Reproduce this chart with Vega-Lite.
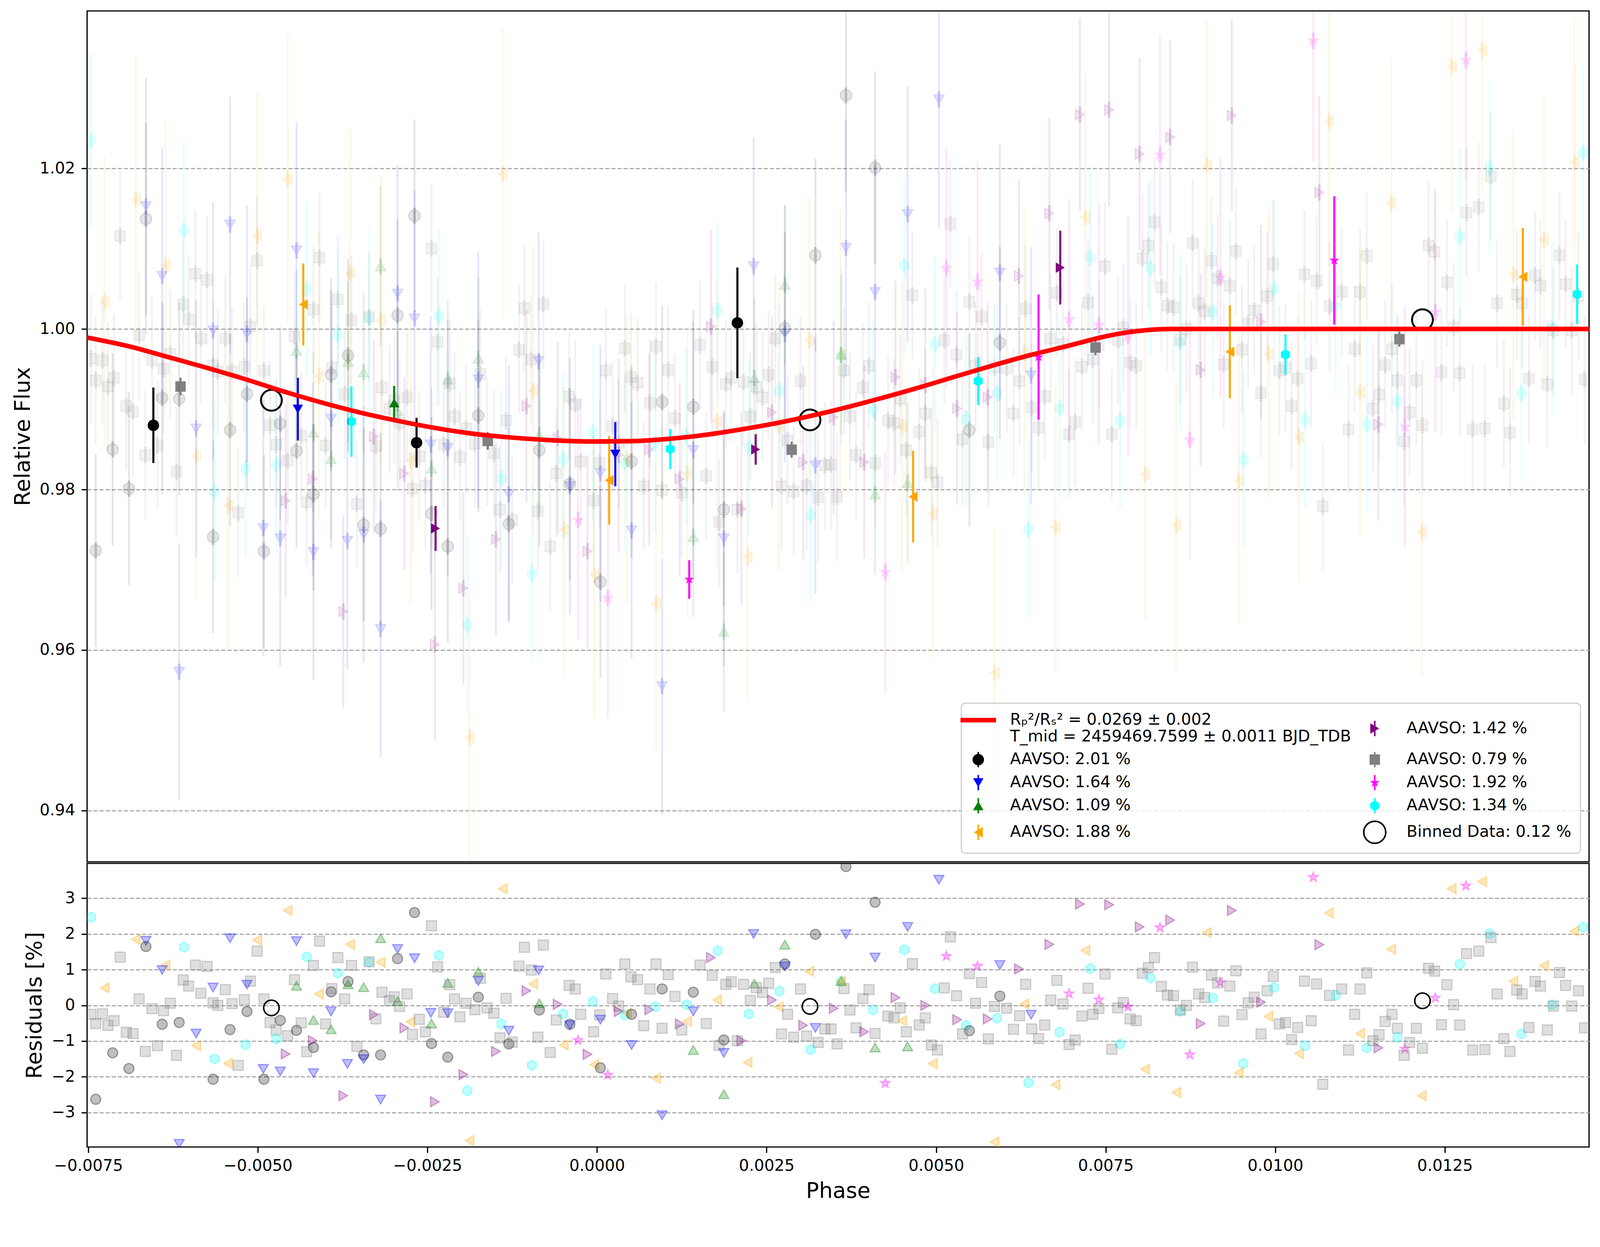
{
  "$schema": "https://vega.github.io/schema/vega-lite/v6.json",
  "background": "white",
  "padding": {"left": 29, "top": 26, "right": 29, "bottom": 25},
  "spacing": 0,
  "resolve": {"scale": {"color": "independent", "shape": "independent", "fill": "independent", "stroke": "independent"}},
  "datasets": {
    "sets": [
      {"s": "c", "lab": "AAVSO: 2.01 %", "e": 0.012},
      {"s": "d", "lab": "AAVSO: 1.64 %", "e": 0.016},
      {"s": "u", "lab": "AAVSO: 1.09 %", "e": 0.01},
      {"s": "l", "lab": "AAVSO: 1.88 %", "e": 0.018},
      {"s": "r", "lab": "AAVSO: 1.42 %", "e": 0.012},
      {"s": "s", "lab": "AAVSO: 0.79 %", "e": 0.008},
      {"s": "m", "lab": "AAVSO: 1.92 %", "e": 0.015},
      {"s": "h", "lab": "AAVSO: 1.34 %", "e": 0.011}
    ],
    "model": [
      {"p": -0.00752, "f": 0.99893}, {"p": -0.0069, "f": 0.99784}, {"p": -0.00635, "f": 0.99657},
      {"p": -0.00578, "f": 0.99523}, {"p": -0.00521, "f": 0.99381}, {"p": -0.00465, "f": 0.9923},
      {"p": -0.00408, "f": 0.99088}, {"p": -0.00351, "f": 0.98962}, {"p": -0.00294, "f": 0.98856},
      {"p": -0.00237, "f": 0.98764}, {"p": -0.00181, "f": 0.98693}, {"p": -0.00124, "f": 0.98646},
      {"p": -0.00067, "f": 0.98614}, {"p": -0.0001, "f": 0.98598}, {"p": 0.00047, "f": 0.98602},
      {"p": 0.00104, "f": 0.9863}, {"p": 0.00142, "f": 0.98662}, {"p": 0.00183, "f": 0.98709},
      {"p": 0.0024, "f": 0.98788}, {"p": 0.00297, "f": 0.98883}, {"p": 0.00354, "f": 0.98994},
      {"p": 0.00411, "f": 0.9912}, {"p": 0.00468, "f": 0.99254}, {"p": 0.00524, "f": 0.99396},
      {"p": 0.00581, "f": 0.99539}, {"p": 0.00638, "f": 0.99673}, {"p": 0.00695, "f": 0.99791},
      {"p": 0.00751, "f": 0.9991}, {"p": 0.0078, "f": 0.99955}, {"p": 0.00808, "f": 0.99984},
      {"p": 0.00848, "f": 1.0}, {"p": 0.01463, "f": 1.0}
    ],
    "bins": [
      {"p": -0.0048, "f": 0.99112, "r": -0.07},
      {"p": 0.00314, "f": 0.98867, "r": -0.03},
      {"p": 0.01217, "f": 1.00115, "r": 0.13}
    ],
    "hi": [
      {"s": "c", "p": -0.00654, "f": 0.988, "e": 0.0047},
      {"s": "c", "p": -0.00266, "f": 0.98583, "e": 0.0031},
      {"s": "c", "p": 0.00207, "f": 1.00076, "e": 0.0069},
      {"s": "s", "p": -0.00614, "f": 0.99283, "e": 0.0011},
      {"s": "s", "p": -0.00161, "f": 0.98606, "e": 0.0011},
      {"s": "s", "p": 0.00287, "f": 0.98496, "e": 0.001},
      {"s": "s", "p": 0.00735, "f": 0.99768, "e": 0.0009},
      {"s": "s", "p": 0.01183, "f": 0.99873, "e": 0.0009},
      {"s": "d", "p": -0.00441, "f": 0.99001, "e": 0.0039},
      {"s": "d", "p": 0.00027, "f": 0.9844, "e": 0.004},
      {"s": "u", "p": -0.00299, "f": 0.9908, "e": 0.0021},
      {"s": "l", "p": -0.00433, "f": 1.00306, "e": 0.0051},
      {"s": "l", "p": 0.00018, "f": 0.98115, "e": 0.0055},
      {"s": "l", "p": 0.00466, "f": 0.97911, "e": 0.0057},
      {"s": "l", "p": 0.00933, "f": 0.99716, "e": 0.0058},
      {"s": "l", "p": 0.01365, "f": 1.0065, "e": 0.0061},
      {"s": "r", "p": -0.00238, "f": 0.97516, "e": 0.0028},
      {"s": "r", "p": 0.00234, "f": 0.98499, "e": 0.0019},
      {"s": "r", "p": 0.00683, "f": 1.00764, "e": 0.0046},
      {"s": "m", "p": 0.00136, "f": 0.96879, "e": 0.0024},
      {"s": "m", "p": 0.00651, "f": 0.9965, "e": 0.0078},
      {"s": "m", "p": 0.01087, "f": 1.00854, "e": 0.008},
      {"s": "h", "p": -0.00362, "f": 0.98847, "e": 0.0044},
      {"s": "h", "p": 0.00108, "f": 0.98504, "e": 0.0025},
      {"s": "h", "p": 0.00562, "f": 0.99352, "e": 0.003},
      {"s": "h", "p": 0.01015, "f": 0.99681, "e": 0.0025},
      {"s": "h", "p": 0.01445, "f": 1.00433, "e": 0.0037}
    ],
    "raw": [
      {"s":"h","p":-0.00746,"r":2.47,"f":1.0235},
      {"s":"c","p":-0.00739,"r":-2.63,"f":0.9724},
      {"s":"s","p":-0.00746,"r":-0.25,"f":0.9963},
      {"s":"s","p":-0.00739,"r":-0.51,"f":0.9936},
      {"s":"s","p":-0.00729,"r":-0.24,"f":0.9961},
      {"s":"s","p":-0.00721,"r":-0.56,"f":0.9928},
      {"s":"s","p":-0.00712,"r":-0.43,"f":0.9939},
      {"s":"l","p":-0.00726,"r":0.49,"f":1.0034},
      {"s":"c","p":-0.00714,"r":-1.33,"f":0.985},
      {"s":"s","p":-0.00703,"r":1.35,"f":1.0116},
      {"s":"c","p":-0.0069,"r":-1.77,"f":0.9801},
      {"s":"s","p":-0.00694,"r":-0.75,"f":0.9904},
      {"s":"s","p":-0.00684,"r":-0.79,"f":0.9897},
      {"s":"l","p":-0.0068,"r":1.85,"f":1.0161},
      {"s":"d","p":-0.00665,"r":1.81,"f":1.0153},
      {"s":"c","p":-0.00665,"r":1.65,"f":1.0137},
      {"s":"s","p":-0.00675,"r":0.18,"f":0.9992},
      {"s":"s","p":-0.00656,"r":-0.09,"f":0.9961},
      {"s":"s","p":-0.00639,"r":-0.15,"f":0.995},
      {"s":"s","p":-0.00629,"r":0.06,"f":0.9969},
      {"s":"s","p":-0.00666,"r":-1.29,"f":0.9843},
      {"s":"s","p":-0.00648,"r":-1.13,"f":0.9855},
      {"s":"c","p":-0.00641,"r":-0.53,"f":0.9914},
      {"s":"l","p":-0.00636,"r":1.13,"f":1.0079},
      {"s":"d","p":-0.00641,"r":0.99,"f":1.0066},
      {"s":"s","p":-0.0062,"r":-1.4,"f":0.9822},
      {"s":"c","p":-0.00616,"r":-0.48,"f":0.9913},
      {"s":"d","p":-0.00616,"r":-3.88,"f":0.9573},
      {"s":"s","p":-0.0061,"r":0.71,"f":1.0031},
      {"s":"s","p":-0.00602,"r":0.54,"f":1.0012},
      {"s":"s","p":-0.00592,"r":1.13,"f":1.0069},
      {"s":"s","p":-0.00575,"r":1.09,"f":1.0061},
      {"s":"s","p":-0.00584,"r":0.34,"f":0.9988},
      {"s":"d","p":-0.00591,"r":-0.79,"f":0.9876},
      {"s":"l","p":-0.00591,"r":-1.13,"f":0.9842},
      {"s":"h","p":-0.00609,"r":1.63,"f":1.0123},
      {"s":"d","p":-0.00566,"r":0.5,"f":0.9998},
      {"s":"c","p":-0.00566,"r":-2.07,"f":0.9741},
      {"s":"s","p":-0.00566,"r":0.07,"f":0.9955},
      {"s":"s","p":-0.00559,"r":0.0,"f":0.9947},
      {"s":"s","p":-0.00548,"r":0.44,"f":0.9988},
      {"s":"s","p":-0.00538,"r":0.05,"f":0.9947},
      {"s":"h","p":-0.00564,"r":-1.5,"f":0.9797},
      {"s":"l","p":-0.00544,"r":-1.63,"f":0.978},
      {"s":"s","p":-0.00529,"r":-1.68,"f":0.9771},
      {"s":"c","p":-0.00541,"r":-0.68,"f":0.9874},
      {"s":"d","p":-0.00541,"r":1.88,"f":1.013},
      {"s":"s","p":-0.0052,"r":0.16,"f":0.9953},
      {"s":"s","p":-0.00511,"r":0.68,"f":1.0003},
      {"s":"d","p":-0.00516,"r":0.58,"f":0.9994},
      {"s":"c","p":-0.00516,"r":-0.17,"f":0.9919},
      {"s":"h","p":-0.00518,"r":-1.1,"f":0.9826},
      {"s":"l","p":-0.00501,"r":1.83,"f":1.0116},
      {"s":"s","p":-0.00501,"r":1.52,"f":1.0085},
      {"s":"s","p":-0.00491,"r":0.18,"f":0.9948},
      {"s":"c","p":-0.00491,"r":-2.07,"f":0.9723},
      {"s":"d","p":-0.00492,"r":-1.78,"f":0.9752},
      {"s":"s","p":-0.00482,"r":-0.48,"f":0.988},
      {"s":"c","p":-0.00467,"r":-0.42,"f":0.9882},
      {"s":"s","p":-0.00473,"r":-0.69,"f":0.9856},
      {"s":"h","p":-0.00473,"r":-0.94,"f":0.9831},
      {"s":"d","p":-0.00467,"r":-1.85,"f":0.9739},
      {"s":"s","p":-0.00456,"r":-0.85,"f":0.9836},
      {"s":"l","p":-0.00456,"r":2.66,"f":1.0187},
      {"s":"h","p":-0.00428,"r":1.36,"f":1.005},
      {"s":"s","p":-0.00446,"r":0.72,"f":0.9991},
      {"s":"u","p":-0.00443,"r":0.55,"f":0.9973},
      {"s":"c","p":-0.00443,"r":-0.7,"f":0.9848},
      {"s":"d","p":-0.00443,"r":1.8,"f":1.0098},
      {"s":"s","p":-0.00436,"r":-0.49,"f":0.9867},
      {"s":"r","p":-0.00419,"r":-0.99,"f":0.9813},
      {"s":"c","p":-0.00418,"r":-1.18,"f":0.9794},
      {"s":"s","p":-0.00428,"r":-1.3,"f":0.9784},
      {"s":"r","p":-0.00459,"r":-1.36,"f":0.9786},
      {"s":"s","p":-0.00418,"r":1.12,"f":1.0024},
      {"s":"u","p":-0.00418,"r":-0.41,"f":0.9871},
      {"s":"d","p":-0.00418,"r":-1.9,"f":0.9722},
      {"s":"s","p":-0.00409,"r":1.8,"f":1.0089},
      {"s":"l","p":-0.0041,"r":0.32,"f":0.9941},
      {"s":"c","p":-0.00392,"r":0.38,"f":0.9943},
      {"s":"s","p":-0.00391,"r":0.47,"f":0.9952},
      {"s":"u","p":-0.00392,"r":-0.67,"f":0.9838},
      {"s":"s","p":-0.004,"r":-0.52,"f":0.9855},
      {"s":"d","p":-0.00392,"r":-0.17,"f":0.9888},
      {"s":"s","p":-0.00382,"r":1.34,"f":1.0037},
      {"s":"h","p":-0.00382,"r":0.9,"f":0.9993},
      {"s":"r","p":-0.00374,"r":-2.53,"f":0.9648},
      {"s":"s","p":-0.00372,"r":0.18,"f":0.9919},
      {"s":"c","p":-0.00367,"r":0.67,"f":0.9967},
      {"s":"u","p":-0.00367,"r":0.59,"f":0.9959},
      {"s":"d","p":-0.00368,"r":-1.64,"f":0.9736},
      {"s":"l","p":-0.00364,"r":1.71,"f":1.007},
      {"s":"s","p":-0.00362,"r":1.12,"f":1.0011},
      {"s":"s","p":-0.00354,"r":-1.15,"f":0.9782},
      {"s":"u","p":-0.00344,"r":0.51,"f":0.9946},
      {"s":"c","p":-0.00344,"r":-1.39,"f":0.9756},
      {"s":"d","p":-0.00344,"r":-1.51,"f":0.9744},
      {"s":"h","p":-0.00336,"r":1.21,"f":1.0014},
      {"s":"s","p":-0.00336,"r":1.22,"f":1.0015},
      {"s":"l","p":-0.00319,"r":1.21,"f":1.0011},
      {"s":"u","p":-0.00319,"r":1.88,"f":1.0078},
      {"s":"r","p":-0.00329,"r":-0.26,"f":0.9866},
      {"s":"s","p":-0.00326,"r":-0.38,"f":0.9854},
      {"s":"d","p":-0.00319,"r":-2.64,"f":0.9626},
      {"s":"c","p":-0.00319,"r":-1.39,"f":0.9751},
      {"s":"s","p":-0.00317,"r":0.37,"f":0.9927},
      {"s":"s","p":-0.00306,"r":0.13,"f":0.9901},
      {"s":"s","p":-0.00299,"r":0.24,"f":0.9911},
      {"s":"u","p":-0.00294,"r":0.12,"f":0.9898},
      {"s":"s","p":-0.00291,"r":-0.03,"f":0.9883},
      {"s":"c","p":-0.00294,"r":1.31,"f":1.0017},
      {"s":"d","p":-0.00294,"r":1.58,"f":1.0044},
      {"s":"s","p":-0.0028,"r":0.32,"f":0.9915},
      {"s":"r","p":-0.00284,"r":-0.63,"f":0.982},
      {"s":"s","p":-0.00272,"r":-0.81,"f":0.9801},
      {"s":"l","p":-0.00275,"r":-0.46,"f":0.9836},
      {"s":"d","p":-0.00269,"r":1.32,"f":1.0013},
      {"s":"c","p":-0.00269,"r":2.6,"f":1.0141},
      {"s":"s","p":-0.00262,"r":-0.39,"f":0.9841},
      {"s":"s","p":-0.00253,"r":-0.74,"f":0.9805},
      {"s":"u","p":-0.00244,"r":-0.51,"f":0.9826},
      {"s":"d","p":-0.00245,"r":-0.21,"f":0.9856},
      {"s":"c","p":-0.00244,"r":-1.07,"f":0.977},
      {"s":"r","p":-0.00239,"r":-2.7,"f":0.9607},
      {"s":"s","p":-0.00244,"r":2.23,"f":1.01},
      {"s":"h","p":-0.00233,"r":1.4,"f":1.0016},
      {"s":"s","p":-0.00235,"r":1.08,"f":0.9984},
      {"s":"u","p":-0.0022,"r":0.63,"f":0.9937},
      {"s":"s","p":-0.00217,"r":0.58,"f":0.9932},
      {"s":"s","p":-0.00226,"r":-0.19,"f":0.9856},
      {"s":"d","p":-0.0022,"r":-0.22,"f":0.9852},
      {"s":"c","p":-0.0022,"r":-1.45,"f":0.9729},
      {"s":"s","p":-0.0021,"r":0.18,"f":0.9891},
      {"s":"s","p":-0.00202,"r":-0.32,"f":0.984},
      {"s":"r","p":-0.00197,"r":-1.94,"f":0.9677},
      {"s":"h","p":-0.00191,"r":-2.39,"f":0.9631},
      {"s":"l","p":-0.00188,"r":-3.79,"f":0.9491},
      {"s":"s","p":-0.00193,"r":0.06,"f":0.9876},
      {"s":"s","p":-0.0018,"r":-0.12,"f":0.9857},
      {"s":"c","p":-0.00175,"r":0.23,"f":0.9892},
      {"s":"u","p":-0.00175,"r":0.94,"f":0.9963},
      {"s":"d","p":-0.00175,"r":0.68,"f":0.9937},
      {"s":"s","p":-0.00172,"r":0.76,"f":0.9944},
      {"s":"s","p":-0.00162,"r":-0.07,"f":0.986},
      {"s":"s","p":-0.00152,"r":-0.22,"f":0.9845},
      {"s":"r","p":-0.00149,"r":-1.29,"f":0.9738},
      {"s":"l","p":-0.00139,"r":3.27,"f":1.0193},
      {"s":"s","p":-0.00134,"r":0.2,"f":0.9886},
      {"s":"h","p":-0.00141,"r":-0.52,"f":0.9814},
      {"s":"d","p":-0.0013,"r":-0.71,"f":0.9794},
      {"s":"s","p":-0.00143,"r":-0.91,"f":0.9775},
      {"s":"c","p":-0.0013,"r":-1.08,"f":0.9757},
      {"s":"s","p":-0.00125,"r":-1.03,"f":0.9762},
      {"s":"s","p":-0.00115,"r":1.1,"f":0.9974},
      {"s":"s","p":-0.00107,"r":1.63,"f":1.0026},
      {"s":"r","p":-0.00104,"r":0.41,"f":0.9904},
      {"s":"l","p":-0.00094,"r":0.6,"f":0.9923},
      {"s":"s","p":-0.00097,"r":0.99,"f":0.9962},
      {"s":"d","p":-0.00086,"r":0.98,"f":0.996},
      {"s":"h","p":-0.00096,"r":-1.68,"f":0.9695},
      {"s":"s","p":-0.00087,"r":-0.89,"f":0.9773},
      {"s":"c","p":-0.00085,"r":-0.13,"f":0.9849},
      {"s":"u","p":-0.00085,"r":0.06,"f":0.9868},
      {"s":"s","p":-0.00079,"r":1.69,"f":1.0031},
      {"s":"s","p":-0.00069,"r":-1.32,"f":0.9729},
      {"s":"r","p":-0.00058,"r":0.03,"f":0.9864},
      {"s":"h","p":-0.0005,"r":-0.24,"f":0.9837},
      {"s":"s","p":-0.0006,"r":-0.41,"f":0.982},
      {"s":"c","p":-0.0004,"r":-0.53,"f":0.9807},
      {"s":"d","p":-0.0004,"r":-0.56,"f":0.9804},
      {"s":"l","p":-0.00049,"r":-1.11,"f":0.975},
      {"s":"m","p":-0.00028,"r":-0.98,"f":0.9762},
      {"s":"s","p":-0.00041,"r":0.56,"f":0.9916},
      {"s":"s","p":-0.00032,"r":0.46,"f":0.9906},
      {"s":"s","p":-0.00024,"r":-0.25,"f":0.9835},
      {"s":"r","p":-0.00014,"r":-1.37,"f":0.9723},
      {"s":"h","p":-0.00006,"r":0.11,"f":0.9871},
      {"s":"s","p":-0.00005,"r":-0.74,"f":0.9786},
      {"s":"s","p":0.00004,"r":-0.27,"f":0.9833},
      {"s":"d","p":0.00005,"r":-0.4,"f":0.982},
      {"s":"l","p":-0.00004,"r":-1.66,"f":0.9694},
      {"s":"c","p":0.00005,"r":-1.75,"f":0.9685},
      {"s":"m","p":0.00016,"r":-1.95,"f":0.9665},
      {"s":"s","p":0.00023,"r":0.19,"f":0.9879},
      {"s":"s","p":0.00032,"r":-0.02,"f":0.9858},
      {"s":"r","p":0.00032,"r":-0.17,"f":0.9843},
      {"s":"h","p":0.00041,"r":-0.27,"f":0.9833},
      {"s":"l","p":0.00044,"r":-0.22,"f":0.9838},
      {"s":"c","p":0.00051,"r":-0.25,"f":0.9835},
      {"s":"d","p":0.00051,"r":-1.11,"f":0.9749},
      {"s":"s","p":0.00013,"r":0.88,"f":0.9948},
      {"s":"s","p":0.00041,"r":1.16,"f":0.9976},
      {"s":"s","p":0.0005,"r":0.8,"f":0.994},
      {"s":"s","p":0.0006,"r":0.72,"f":0.9933},
      {"s":"s","p":0.00078,"r":0.46,"f":0.9908},
      {"s":"s","p":0.00069,"r":-0.57,"f":0.9804},
      {"s":"r","p":0.00077,"r":-0.12,"f":0.985},
      {"s":"h","p":0.00086,"r":-0.04,"f":0.9858},
      {"s":"s","p":0.00087,"r":1.16,"f":0.9978},
      {"s":"s","p":0.00096,"r":-0.64,"f":0.9799},
      {"s":"l","p":0.00087,"r":-2.04,"f":0.9658},
      {"s":"d","p":0.00096,"r":-3.08,"f":0.9555},
      {"s":"c","p":0.00096,"r":0.46,"f":0.9909},
      {"s":"s","p":0.00105,"r":0.86,"f":0.9949},
      {"s":"s","p":0.00115,"r":0.25,"f":0.9889},
      {"s":"r","p":0.00122,"r":-0.52,"f":0.9813},
      {"s":"l","p":0.00133,"r":-0.45,"f":0.982},
      {"s":"s","p":0.00125,"r":-0.69,"f":0.9796},
      {"s":"h","p":0.00132,"r":0.02,"f":0.9867},
      {"s":"d","p":0.00142,"r":-0.17,"f":0.9849},
      {"s":"c","p":0.00142,"r":0.37,"f":0.9903},
      {"s":"u","p":0.00142,"r":-1.25,"f":0.9741},
      {"s":"s","p":0.00152,"r":1.13,"f":0.998},
      {"s":"r","p":0.00168,"r":1.34,"f":1.0003},
      {"s":"h","p":0.00178,"r":1.53,"f":1.0023},
      {"s":"s","p":0.0017,"r":0.84,"f":0.9953},
      {"s":"s","p":0.00161,"r":-0.51,"f":0.9817},
      {"s":"c","p":0.00187,"r":-0.97,"f":0.9775},
      {"s":"s","p":0.0018,"r":-1.12,"f":0.9759},
      {"s":"d","p":0.00187,"r":-1.33,"f":0.9739},
      {"s":"u","p":0.00187,"r":-2.49,"f":0.9623},
      {"s":"s","p":0.0019,"r":0.59,"f":0.9931},
      {"s":"s","p":0.00198,"r":0.66,"f":0.9939},
      {"s":"s","p":0.00207,"r":-0.99,"f":0.9775},
      {"s":"r","p":0.00213,"r":-0.99,"f":0.9776},
      {"s":"l","p":0.00177,"r":0.15,"f":0.9885},
      {"s":"s","p":0.00216,"r":0.59,"f":0.9934},
      {"s":"l","p":0.00222,"r":-1.6,"f":0.9716},
      {"s":"s","p":0.00226,"r":0.14,"f":0.9891},
      {"s":"d","p":0.00231,"r":2.0,"f":1.0078},
      {"s":"u","p":0.00232,"r":0.61,"f":0.9939},
      {"s":"s","p":0.00235,"r":0.5,"f":0.9928},
      {"s":"h","p":0.00224,"r":-0.24,"f":0.9852},
      {"s":"s","p":0.00244,"r":0.36,"f":0.9915},
      {"s":"s","p":0.00253,"r":0.62,"f":0.9943},
      {"s":"r","p":0.00258,"r":0.15,"f":0.9896},
      {"s":"h","p":0.00269,"r":0.4,"f":0.9923},
      {"s":"l","p":0.00268,"r":-0.04,"f":0.9879},
      {"s":"s","p":0.00263,"r":1.06,"f":0.9988},
      {"s":"c","p":0.00277,"r":1.16,"f":1.0001},
      {"s":"d","p":0.00277,"r":1.09,"f":0.9994},
      {"s":"u","p":0.00277,"r":1.7,"f":1.0055},
      {"s":"l","p":0.00313,"r":0.95,"f":0.9986},
      {"s":"s","p":0.00281,"r":-0.25,"f":0.9861},
      {"s":"s","p":0.00272,"r":-0.8,"f":0.9804},
      {"s":"s","p":0.0029,"r":-0.89,"f":0.9798},
      {"s":"r","p":0.00304,"r":-0.56,"f":0.9834},
      {"s":"s","p":0.00309,"r":-0.86,"f":0.9804},
      {"s":"s","p":0.003,"r":0.46,"f":0.9935},
      {"s":"c","p":0.00322,"r":1.99,"f":1.0092},
      {"s":"d","p":0.00322,"r":-0.63,"f":0.983},
      {"s":"h","p":0.00315,"r":-1.24,"f":0.9768},
      {"s":"s","p":0.00326,"r":-1.04,"f":0.979},
      {"s":"s","p":0.00336,"r":-0.66,"f":0.983},
      {"s":"s","p":0.00345,"r":-0.66,"f":0.9831},
      {"s":"r","p":0.00349,"r":-0.08,"f":0.989},
      {"s":"s","p":0.00354,"r":-1.08,"f":0.9791},
      {"s":"h","p":0.0036,"r":0.67,"f":0.9967},
      {"s":"u","p":0.0036,"r":0.68,"f":0.9968},
      {"s":"s","p":0.00364,"r":0.47,"f":0.9948},
      {"s":"l","p":0.00359,"r":0.68,"f":0.9968},
      {"s":"d","p":0.00367,"r":1.99,"f":1.0101},
      {"s":"c","p":0.00367,"r":3.89,"f":1.0291},
      {"s":"s","p":0.00373,"r":-0.13,"f":0.9891},
      {"s":"s","p":0.00382,"r":-0.63,"f":0.9843},
      {"s":"r","p":0.00394,"r":-0.74,"f":0.9834},
      {"s":"s","p":0.00392,"r":0.19,"f":0.9927},
      {"s":"s","p":0.00401,"r":0.44,"f":0.9954},
      {"s":"s","p":0.0041,"r":-0.79,"f":0.9833},
      {"s":"h","p":0.00407,"r":-0.13,"f":0.9899},
      {"s":"c","p":0.0041,"r":2.89,"f":1.0201},
      {"s":"d","p":0.0041,"r":1.34,"f":1.0046},
      {"s":"u","p":0.0041,"r":-1.18,"f":0.9794},
      {"s":"m","p":0.00425,"r":-2.18,"f":0.9697},
      {"s":"s","p":0.00429,"r":-0.3,"f":0.9886},
      {"s":"s","p":0.00438,"r":-0.35,"f":0.9883},
      {"s":"r","p":0.0044,"r":0.22,"f":0.994},
      {"s":"s","p":0.00447,"r":-0.07,"f":0.9913},
      {"s":"l","p":0.0045,"r":-0.43,"f":0.9878},
      {"s":"h","p":0.00453,"r":1.56,"f":1.0079},
      {"s":"s","p":0.00456,"r":-0.74,"f":0.9849},
      {"s":"u","p":0.00458,"r":-1.15,"f":0.9808},
      {"s":"d","p":0.00458,"r":2.2,"f":1.0143},
      {"s":"s","p":0.00465,"r":1.17,"f":1.0042},
      {"s":"s","p":0.00475,"r":-0.55,"f":0.9872},
      {"s":"r","p":0.00484,"r":0.0,"f":0.993},
      {"s":"s","p":0.00484,"r":-0.35,"f":0.9895},
      {"s":"s","p":0.00493,"r":-1.11,"f":0.9821},
      {"s":"s","p":0.00502,"r":-1.25,"f":0.9809},
      {"s":"l","p":0.00495,"r":-1.63,"f":0.977},
      {"s":"h","p":0.00498,"r":0.47,"f":0.9981},
      {"s":"s","p":0.00512,"r":0.49,"f":0.9986},
      {"s":"d","p":0.00504,"r":3.52,"f":1.0286},
      {"s":"s","p":0.00521,"r":1.92,"f":1.0131},
      {"s":"s","p":0.0053,"r":0.27,"f":0.9968},
      {"s":"m","p":0.00515,"r":1.38,"f":1.0076},
      {"s":"r","p":0.00531,"r":-0.4,"f":0.9901},
      {"s":"h","p":0.00544,"r":-0.56,"f":0.9888},
      {"s":"c","p":0.00549,"r":-0.71,"f":0.9874},
      {"s":"s","p":0.00539,"r":-0.8,"f":0.9863},
      {"s":"s","p":0.00549,"r":0.89,"f":1.0034},
      {"s":"m","p":0.00561,"r":1.1,"f":1.0059},
      {"s":"s","p":0.00567,"r":0.64,"f":1.0015},
      {"s":"s","p":0.00558,"r":0.06,"f":0.9954},
      {"s":"r","p":0.00576,"r":-0.38,"f":0.9915},
      {"s":"h","p":0.0059,"r":-0.36,"f":0.992},
      {"s":"s","p":0.00577,"r":-0.94,"f":0.9859},
      {"s":"s","p":0.00586,"r":-0.03,"f":0.9952},
      {"s":"c","p":0.00594,"r":0.26,"f":0.9983},
      {"s":"d","p":0.00594,"r":1.13,"f":1.007},
      {"s":"s","p":0.00604,"r":-0.08,"f":0.9951},
      {"s":"r","p":0.00622,"r":1.02,"f":1.0066},
      {"s":"s","p":0.00614,"r":-0.67,"f":0.9895},
      {"s":"s","p":0.00623,"r":-0.29,"f":0.9935},
      {"s":"l","p":0.0063,"r":0.04,"f":0.997},
      {"s":"s","p":0.00632,"r":0.59,"f":1.0025},
      {"s":"h","p":0.00636,"r":-2.17,"f":0.975},
      {"s":"d","p":0.0064,"r":-0.26,"f":0.9942},
      {"s":"s","p":0.00641,"r":-0.66,"f":0.9902},
      {"s":"s","p":0.00651,"r":-0.93,"f":0.9877},
      {"s":"s","p":0.0066,"r":-0.55,"f":0.9916},
      {"s":"r","p":0.00667,"r":1.71,"f":1.0144},
      {"s":"s","p":0.00669,"r":0.15,"f":0.9988},
      {"s":"l","p":0.00676,"r":-2.22,"f":0.9753},
      {"s":"s","p":0.00678,"r":0.7,"f":1.0045},
      {"s":"h","p":0.00682,"r":-0.75,"f":0.9901},
      {"s":"s","p":0.00687,"r":0.04,"f":0.9981},
      {"s":"m","p":0.00696,"r":0.33,"f":1.0012},
      {"s":"s","p":0.00696,"r":-1.1,"f":0.9869},
      {"s":"s","p":0.00705,"r":-0.97,"f":0.9884},
      {"s":"s","p":0.00715,"r":-0.3,"f":0.9953},
      {"s":"s","p":0.00724,"r":0.48,"f":1.0033},
      {"s":"s","p":0.00731,"r":-0.25,"f":0.9962},
      {"s":"l","p":0.0072,"r":1.54,"f":1.0139},
      {"s":"r","p":0.00712,"r":2.84,"f":1.0267},
      {"s":"h","p":0.00727,"r":1.03,"f":1.0089},
      {"s":"l","p":0.00586,"r":-3.83,"f":0.9572},
      {"s":"r","p":0.00755,"r":2.82,"f":1.0273},
      {"s":"m","p":0.0074,"r":0.16,"f":1.0005},
      {"s":"s","p":0.0074,"r":-0.09,"f":0.998},
      {"s":"s","p":0.00749,"r":0.88,"f":1.0078},
      {"s":"h","p":0.00771,"r":-1.08,"f":0.9886},
      {"s":"s","p":0.00759,"r":-1.23,"f":0.9869},
      {"s":"s","p":0.00768,"r":-0.07,"f":0.9986},
      {"s":"s","p":0.00776,"r":0.08,"f":1.0002},
      {"s":"m","p":0.00783,"r":-0.04,"f":0.9991},
      {"s":"s","p":0.00786,"r":-0.38,"f":0.9958},
      {"s":"s","p":0.00795,"r":-0.43,"f":0.9954},
      {"s":"r","p":0.008,"r":2.2,"f":1.0218},
      {"s":"s","p":0.00804,"r":0.9,"f":1.0088},
      {"s":"s","p":0.00813,"r":1.06,"f":1.0104},
      {"s":"s","p":0.00822,"r":1.34,"f":1.0133},
      {"s":"h","p":0.00816,"r":0.77,"f":1.0076},
      {"s":"m","p":0.0083,"r":2.18,"f":1.0217},
      {"s":"l","p":0.00808,"r":-1.79,"f":0.9819},
      {"s":"s","p":0.00832,"r":0.53,"f":1.0052},
      {"s":"s","p":0.00841,"r":0.29,"f":1.0029},
      {"s":"s","p":0.0085,"r":0.27,"f":1.0027},
      {"s":"r","p":0.00845,"r":2.39,"f":1.0239},
      {"s":"l","p":0.00854,"r":-2.44,"f":0.9756},
      {"s":"h","p":0.0086,"r":-0.17,"f":0.9983},
      {"s":"s","p":0.0086,"r":-0.13,"f":0.9987},
      {"s":"s","p":0.00869,"r":0.0,"f":1.0},
      {"s":"m","p":0.00874,"r":-1.38,"f":0.9862},
      {"s":"s","p":0.00878,"r":1.07,"f":1.0107},
      {"s":"s","p":0.00887,"r":0.32,"f":1.0032},
      {"s":"r","p":0.0089,"r":-0.51,"f":0.9949},
      {"s":"s","p":0.00896,"r":0.22,"f":1.0022},
      {"s":"l","p":0.00899,"r":2.04,"f":1.0204},
      {"s":"h","p":0.00908,"r":0.21,"f":1.0021},
      {"s":"s","p":0.00906,"r":0.85,"f":1.0085},
      {"s":"m","p":0.00919,"r":0.64,"f":1.0064},
      {"s":"s","p":0.00915,"r":0.63,"f":1.0063},
      {"s":"s","p":0.00924,"r":-0.44,"f":0.9956},
      {"s":"s","p":0.00933,"r":0.54,"f":1.0054},
      {"s":"r","p":0.00936,"r":2.66,"f":1.0266},
      {"s":"s","p":0.00942,"r":0.97,"f":1.0097},
      {"s":"h","p":0.00953,"r":-1.63,"f":0.9837},
      {"s":"l","p":0.00946,"r":-1.89,"f":0.9811},
      {"s":"s","p":0.00951,"r":-0.26,"f":0.9974},
      {"s":"s","p":0.0096,"r":0.07,"f":1.0007},
      {"s":"s","p":0.00969,"r":0.23,"f":1.0023},
      {"s":"r","p":0.00979,"r":0.09,"f":1.0009},
      {"s":"s","p":0.00979,"r":-0.8,"f":0.992},
      {"s":"l","p":0.0099,"r":-0.31,"f":0.9969},
      {"s":"s","p":0.00988,"r":0.41,"f":1.0041},
      {"s":"h","p":0.00998,"r":0.5,"f":1.005},
      {"s":"s","p":0.00997,"r":0.81,"f":1.0081},
      {"s":"s","p":0.01006,"r":-0.52,"f":0.9948},
      {"s":"s","p":0.01015,"r":-0.48,"f":0.9952},
      {"s":"s","p":0.01024,"r":-0.96,"f":0.9904},
      {"s":"s","p":0.01033,"r":-0.62,"f":0.9938},
      {"s":"l","p":0.01035,"r":-1.35,"f":0.9865},
      {"s":"h","p":0.01044,"r":-1.13,"f":0.9887},
      {"s":"s","p":0.01043,"r":0.68,"f":1.0068},
      {"s":"s","p":0.01053,"r":-0.43,"f":0.9957},
      {"s":"m","p":0.01056,"r":3.59,"f":1.0359},
      {"s":"s","p":0.01061,"r":0.6,"f":1.006},
      {"s":"r","p":0.01065,"r":1.7,"f":1.017},
      {"s":"s","p":0.0107,"r":-2.21,"f":0.9779},
      {"s":"l","p":0.01079,"r":2.59,"f":1.0259},
      {"s":"s","p":0.0108,"r":0.28,"f":1.0028},
      {"s":"h","p":0.01089,"r":0.28,"f":1.0028},
      {"s":"s","p":0.01098,"r":0.46,"f":1.0046},
      {"s":"s","p":0.01108,"r":-1.25,"f":0.9875},
      {"s":"s","p":0.01117,"r":-0.25,"f":0.9975},
      {"s":"s","p":0.01125,"r":0.46,"f":1.0046},
      {"s":"l","p":0.01125,"r":-0.79,"f":0.9921},
      {"s":"s","p":0.01135,"r":0.91,"f":1.0091},
      {"s":"h","p":0.01135,"r":-1.19,"f":0.9881},
      {"s":"s","p":0.01144,"r":-0.99,"f":0.9901},
      {"s":"r","p":0.01152,"r":-1.19,"f":0.9881},
      {"s":"s","p":0.01153,"r":-0.82,"f":0.9918},
      {"s":"s","p":0.01162,"r":-0.45,"f":0.9955},
      {"s":"l","p":0.01171,"r":1.57,"f":1.0157},
      {"s":"s","p":0.01172,"r":-0.25,"f":0.9975},
      {"s":"s","p":0.0118,"r":-0.64,"f":0.9936},
      {"s":"h","p":0.0118,"r":-0.9,"f":0.991},
      {"s":"m","p":0.01191,"r":-1.22,"f":0.9878},
      {"s":"s","p":0.0119,"r":-1.4,"f":0.986},
      {"s":"s","p":0.01198,"r":-1.04,"f":0.9896},
      {"s":"s","p":0.01208,"r":-0.64,"f":0.9936},
      {"s":"s","p":0.01217,"r":-1.2,"f":0.988},
      {"s":"l","p":0.01216,"r":-2.53,"f":0.9747},
      {"s":"m","p":0.01236,"r":0.21,"f":1.0021},
      {"s":"s","p":0.01226,"r":1.04,"f":1.0104},
      {"s":"s","p":0.01235,"r":0.96,"f":1.0096},
      {"s":"s","p":0.01245,"r":-0.54,"f":0.9946},
      {"s":"s","p":0.01253,"r":0.58,"f":1.0058},
      {"s":"s","p":0.01263,"r":0.02,"f":1.0002},
      {"s":"l","p":0.0126,"r":3.27,"f":1.0327},
      {"s":"s","p":0.01272,"r":-0.55,"f":0.9945},
      {"s":"h","p":0.01272,"r":1.15,"f":1.0115},
      {"s":"m","p":0.01281,"r":3.35,"f":1.0335},
      {"s":"s","p":0.01282,"r":1.45,"f":1.0145},
      {"s":"s","p":0.01291,"r":-1.25,"f":0.9875},
      {"s":"s","p":0.013,"r":1.52,"f":1.0152},
      {"s":"l","p":0.01305,"r":3.47,"f":1.0347},
      {"s":"s","p":0.01309,"r":-1.24,"f":0.9876},
      {"s":"h","p":0.01316,"r":2.01,"f":1.0201},
      {"s":"s","p":0.01318,"r":1.9,"f":1.019},
      {"s":"s","p":0.01327,"r":0.32,"f":1.0032},
      {"s":"s","p":0.01337,"r":-0.93,"f":0.9907},
      {"s":"s","p":0.01346,"r":-1.29,"f":0.9871},
      {"s":"l","p":0.01351,"r":0.68,"f":1.0068},
      {"s":"s","p":0.01356,"r":0.43,"f":1.0043},
      {"s":"h","p":0.01363,"r":-0.8,"f":0.992},
      {"s":"s","p":0.01364,"r":0.32,"f":1.0032},
      {"s":"s","p":0.01374,"r":-0.62,"f":0.9938},
      {"s":"s","p":0.01383,"r":0.67,"f":1.0067},
      {"s":"s","p":0.01391,"r":0.54,"f":1.0054},
      {"s":"l","p":0.01396,"r":1.11,"f":1.0111},
      {"s":"s","p":0.01401,"r":-0.69,"f":0.9931},
      {"s":"h","p":0.01408,"r":0.02,"f":1.0002},
      {"s":"s","p":0.0141,"r":-0.02,"f":0.9998},
      {"s":"s","p":0.01419,"r":0.92,"f":1.0092},
      {"s":"s","p":0.01428,"r":0.56,"f":1.0056},
      {"s":"s","p":0.01437,"r":-0.02,"f":0.9998},
      {"s":"l","p":0.01441,"r":2.08,"f":1.0208},
      {"s":"h","p":0.01454,"r":2.19,"f":1.0219},
      {"s":"s","p":0.01447,"r":0.41,"f":1.0041},
      {"s":"s","p":0.01456,"r":-0.63,"f":0.9937}
    ]
  },
  "vconcat": [
    {
      "width": 3845,
      "height": 2178,
      "encoding": {
        "x": {"field": "p", "type": "quantitative", "scale": {"domain": [-0.007517, 0.014626], "nice": false, "zero": false}, "axis": null},
        "y": {"field": "f", "type": "quantitative", "scale": {"domain": [0.93362, 1.03962], "nice": false, "zero": false},
              "axis": {"title": "Relative Flux", "values": [0.94, 0.96, 0.98, 1.0, 1.02], "format": ".2f", "grid": true, "titlePadding": 13.6}}
      },
      "layer": [
        {
          "data": {"name": "raw"},
          "transform": [{"lookup": "s", "from": {"data": {"name": "sets"}, "key": "s", "fields": ["lab"]}}],
          "mark": {"type": "point", "filled": true, "size": 708, "fillOpacity": 0.1, "strokeOpacity": 0.13, "strokeWidth": 2.9, "clip": true},
          "encoding": {
            "fill": {"field": "lab", "type": "nominal", "legend": null,
                     "scale": {"domain": ["AAVSO: 2.01 %", "AAVSO: 1.64 %", "AAVSO: 1.09 %", "AAVSO: 1.88 %", "AAVSO: 1.42 %", "AAVSO: 0.79 %", "AAVSO: 1.92 %", "AAVSO: 1.34 %"],
                               "range": ["#000000", "#0000ff", "#008000", "#ffa500", "#800080", "#808080", "#ff00ff", "#00ffff"]}},
            "stroke": {"field": "lab", "type": "nominal", "legend": null,
                       "scale": {"domain": ["AAVSO: 2.01 %", "AAVSO: 1.64 %", "AAVSO: 1.09 %", "AAVSO: 1.88 %", "AAVSO: 1.42 %", "AAVSO: 0.79 %", "AAVSO: 1.92 %", "AAVSO: 1.34 %"],
                                 "range": ["#000000", "#0000ff", "#008000", "#ffa500", "#800080", "#808080", "#ff00ff", "#00ffff"]}},
            "shape": {"field": "lab", "type": "nominal"}
          }
        },
        {
          "data": {"name": "hi"},
          "transform": [{"lookup": "s", "from": {"data": {"name": "sets"}, "key": "s", "fields": ["lab"]}}],
          "mark": {"type": "point", "filled": true, "size": 708, "opacity": 1, "clip": true},
          "encoding": {
            "color": {
              "field": "lab", "type": "nominal",
              "scale": {
                "domain": ["Rₚ²/Rₛ² = 0.0269 ± 0.002|T_mid = 2459469.7599 ± 0.0011 BJD_TDB", "AAVSO: 2.01 %", "AAVSO: 1.64 %", "AAVSO: 1.09 %", "AAVSO: 1.88 %", "AAVSO: 1.42 %", "AAVSO: 0.79 %", "AAVSO: 1.92 %", "AAVSO: 1.34 %", "Binned Data: 0.12 %"],
                "range": ["#ff0000", "#000000", "#0000ff", "#008000", "#ffa500", "#800080", "#808080", "#ff00ff", "#00ffff", "#000000"]
              },
              "legend": {
                "title": null, "orient": "bottom-right", "offset": 22, "columns": 2, "columnPadding": 30, "rowPadding": 17, "padding": 23,
                "labelFontSize": 40.8, "labelFont": "DejaVu Sans", "labelColor": "black", "labelLimit": 3000, "labelOffset": 61,
                "symbolSize": 708, "symbolOpacity": 1, "symbolStrokeWidth": 0,
                "fillColor": "rgba(255,255,255,0.8)", "strokeColor": "#cccccc", "cornerRadius": 10,
                "labelExpr": "split(datum.label, '|')"
              }
            },
            "shape": {
              "field": "lab", "type": "nominal",
              "scale": {
                "domain": ["Rₚ²/Rₛ² = 0.0269 ± 0.002|T_mid = 2459469.7599 ± 0.0011 BJD_TDB", "AAVSO: 2.01 %", "AAVSO: 1.64 %", "AAVSO: 1.09 %", "AAVSO: 1.88 %", "AAVSO: 1.42 %", "AAVSO: 0.79 %", "AAVSO: 1.92 %", "AAVSO: 1.34 %", "Binned Data: 0.12 %"],
                "range": [
                  "M-3.43,-0.44H3.43V0.44H-3.43Z",
                  "M-1.1,0A1.1,1.1 0 1,1 1.1,0A1.1,1.1 0 1,1 -1.1,0ZM-0.15,-1.48H0.15V1.48H-0.15Z",
                  "M0,0.866L-1,-0.866L1,-0.866ZM-0.15,-1.48H0.15V1.48H-0.15Z",
                  "M0,-0.866L1,0.866L-1,0.866ZM-0.15,-1.48H0.15V1.48H-0.15Z",
                  "M-0.866,0L0.866,-1L0.866,1ZM-0.15,-1.48H0.15V1.48H-0.15Z",
                  "M0.866,0L-0.866,1L-0.866,-1ZM-0.15,-1.48H0.15V1.48H-0.15Z",
                  "M-1,-1H1V1H-1ZM-0.15,-1.48H0.15V1.48H-0.15Z",
                  "M0,-1L0.2245,-0.309L0.951,-0.309L0.363,0.118L0.588,0.809L0,0.382L-0.588,0.809L-0.363,0.118L-0.951,-0.309L-0.2245,-0.309ZM-0.15,-1.48H0.15V1.48H-0.15Z",
                  "M0,-1L0.866,-0.5L0.866,0.5L0,1L-0.866,0.5L-0.866,-0.5ZM-0.15,-1.48H0.15V1.48H-0.15Z",
                  "M-2.26,0A2.26,2.26 0 1,1 2.26,0A2.26,2.26 0 1,1 -2.26,0ZM-1.96,0A1.96,1.96 0 1,0 1.96,0A1.96,1.96 0 1,0 -1.96,0Z"
                ]
              },
              "legend": {
                "title": null, "orient": "bottom-right", "offset": 22, "columns": 2, "columnPadding": 30, "rowPadding": 17, "padding": 23,
                "labelFontSize": 40.8, "labelFont": "DejaVu Sans", "labelColor": "black", "labelLimit": 3000, "labelOffset": 61,
                "symbolSize": 708, "symbolOpacity": 1, "symbolStrokeWidth": 0,
                "fillColor": "rgba(255,255,255,0.8)", "strokeColor": "#cccccc", "cornerRadius": 10,
                "labelExpr": "split(datum.label, '|')"
              }
            }
          }
        },
        {
          "data": {"name": "raw"},
          "transform": [{"lookup": "s", "from": {"data": {"name": "sets"}, "key": "s", "fields": ["lab", "e"]}}],
          "mark": {"type": "errorbar", "ticks": false, "clip": true, "thickness": 4.9, "rule": {"opacity": 0.1}},
          "encoding": {
            "yError": {"field": "e"},
            "color": {"field": "lab", "type": "nominal", "legend": null}
          }
        },
        {
          "data": {"name": "hi"},
          "transform": [{"lookup": "s", "from": {"data": {"name": "sets"}, "key": "s", "fields": ["lab"]}}],
          "mark": {"type": "errorbar", "ticks": false, "clip": true, "thickness": 5.3},
          "encoding": {
            "yError": {"field": "e"},
            "color": {"field": "lab", "type": "nominal", "legend": null}
          }
        },
        {
          "data": {"name": "bins"},
          "mark": {"type": "point", "shape": "circle", "filled": false, "size": 2850, "color": "black", "strokeWidth": 4.9, "opacity": 1, "clip": true}
        },
        {
          "data": {"name": "model"},
          "mark": {"type": "line", "color": "#ff0000", "strokeWidth": 11.7, "interpolate": "monotone", "clip": true},
          "encoding": {}
        }
      ]
    },
    {
      "width": 3845,
      "height": 726,
      "encoding": {
        "x": {"field": "p", "type": "quantitative", "scale": {"domain": [-0.007517, 0.014626], "nice": false, "zero": false},
              "axis": {"title": "Phase", "values": [-0.0075, -0.005, -0.0025, 0, 0.0025, 0.005, 0.0075, 0.01, 0.0125], "format": ".4f", "grid": false, "labelFlush": false, "labelLimit": 500, "labelPadding": 14.1, "titlePadding": 16.5}},
        "y": {"field": "r", "type": "quantitative", "scale": {"domain": [-3.968, 3.979], "nice": false, "zero": false},
              "axis": {"title": "Residuals [%]", "values": [-3, -2, -1, 0, 1, 2, 3], "format": "d", "grid": true, "titlePadding": 14.6}}
      },
      "layer": [
        {
          "data": {"name": "raw"},
          "transform": [{"lookup": "s", "from": {"data": {"name": "sets"}, "key": "s", "fields": ["lab"]}}],
          "mark": {"type": "point", "filled": true, "size": 661, "fillOpacity": 0.25, "strokeOpacity": 0.35, "strokeWidth": 2.9, "clip": true},
          "encoding": {
            "fill": {"field": "lab", "type": "nominal", "legend": null,
                     "scale": {"domain": ["AAVSO: 2.01 %", "AAVSO: 1.64 %", "AAVSO: 1.09 %", "AAVSO: 1.88 %", "AAVSO: 1.42 %", "AAVSO: 0.79 %", "AAVSO: 1.92 %", "AAVSO: 1.34 %"],
                               "range": ["#000000", "#0000ff", "#008000", "#ffa500", "#800080", "#808080", "#ff00ff", "#00ffff"]}},
            "stroke": {"field": "lab", "type": "nominal", "legend": null,
                       "scale": {"domain": ["AAVSO: 2.01 %", "AAVSO: 1.64 %", "AAVSO: 1.09 %", "AAVSO: 1.88 %", "AAVSO: 1.42 %", "AAVSO: 0.79 %", "AAVSO: 1.92 %", "AAVSO: 1.34 %"],
                                 "range": ["#000000", "#0000ff", "#008000", "#ffa500", "#800080", "#808080", "#ff00ff", "#00ffff"]}},
            "shape": {"field": "lab", "type": "nominal", "legend": null,
                      "scale": {"domain": ["AAVSO: 2.01 %", "AAVSO: 1.64 %", "AAVSO: 1.09 %", "AAVSO: 1.88 %", "AAVSO: 1.42 %", "AAVSO: 0.79 %", "AAVSO: 1.92 %", "AAVSO: 1.34 %"],
                                "range": ["circle", "triangle-down", "triangle-up", "triangle-left", "triangle-right", "square", "M0,-1L0.2245,-0.309L0.951,-0.309L0.363,0.118L0.588,0.809L0,0.382L-0.588,0.809L-0.363,0.118L-0.951,-0.309L-0.2245,-0.309Z", "M0,-1L0.866,-0.5L0.866,0.5L0,1L-0.866,0.5L-0.866,-0.5Z"]}}
          }
        },
        {
          "data": {"name": "bins"},
          "mark": {"type": "point", "shape": "circle", "filled": false, "size": 1566, "color": "black", "strokeWidth": 3.9, "opacity": 1, "clip": true}
        }
      ]
    }
  ],
  "config": {
    "font": "DejaVu Sans",
    "view": {"stroke": "black", "strokeWidth": 3.2},
    "legend": {"strokeWidth": 2.9},
    "axis": {
      "domain": false, "labelFont": "DejaVu Sans", "titleFont": "DejaVu Sans",
      "labelFontSize": 40.8, "labelColor": "black", "titleFontSize": 55.4, "titleFontWeight": "normal", "titleColor": "black",
      "tickSize": 14.6, "tickWidth": 3.2, "tickColor": "black", "labelPadding": 16.5, "labelOverlap": false,
      "gridColor": "#aaaaaa", "gridWidth": 2.9, "gridDash": [10.7, 4.9]
    }
  }
}
